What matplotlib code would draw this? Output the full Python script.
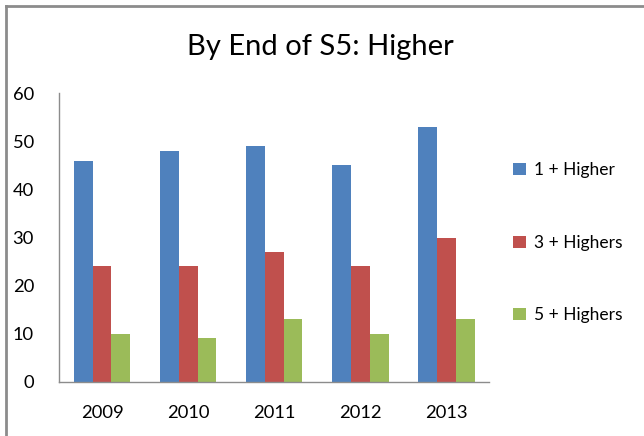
import matplotlib
matplotlib.use("Agg")
import matplotlib.pyplot as plt
import numpy as np
from matplotlib.lines import Line2D

years = ["2009", "2010", "2011", "2012", "2013"]
one_higher = [46, 48, 49, 45, 53]
three_highers = [24, 24, 27, 24, 30]
five_highers = [10, 9, 13, 10, 13]

series = [
    ("1 + Higher", one_higher, "#4f81bd"),
    ("3 + Highers", three_highers, "#c0504d"),
    ("5 + Highers", five_highers, "#9bbb59"),
]

plt.rcParams['font.family'] = ['Lato', 'DejaVu Sans']

fig = plt.figure(figsize=(6.44, 4.36), dpi=100)
ax = fig.add_axes([0.0916, 0.1245, 0.668, 0.6615])

x = np.arange(len(years))
w = 0.22
for i, (name, vals, col) in enumerate(series):
    ax.bar(x + (i - 1) * w, vals, w, color=col, label=name)

ax.set_xlim(-0.5, len(years) - 0.5)
ax.set_ylim(0, 60)
ax.set_yticks(range(0, 61, 10))
ax.set_xticks(x)
ax.set_xticklabels(years)
ax.tick_params(axis='both', length=0, labelsize=13.2)
ax.tick_params(axis='x', pad=17)
ax.tick_params(axis='y', pad=18)
for s in ['top', 'right']:
    ax.spines[s].set_visible(False)
for s in ['left', 'bottom']:
    ax.spines[s].set_color('#8c8c8c')
    ax.spines[s].set_linewidth(1.0)

fig.text(0.497, 0.893, "By End of S5: Higher", ha='center', va='center', fontsize=21)

leg = ax.legend(loc='upper left', bbox_to_anchor=(1.02, 0.815), frameon=False,
                fontsize=12.5, handlelength=0.7, handleheight=0.7, handletextpad=0.5,
                labelspacing=3.25)

# chart frame (only top/left edges visible)
fig.add_artist(Line2D([0.009, 0.009], [0.0, 0.986], transform=fig.transFigure, color='#8c8c8c', lw=2))
fig.add_artist(Line2D([0.009, 1.0], [0.986, 0.986], transform=fig.transFigure, color='#8c8c8c', lw=2))

fig.savefig("out.png", dpi=100)
